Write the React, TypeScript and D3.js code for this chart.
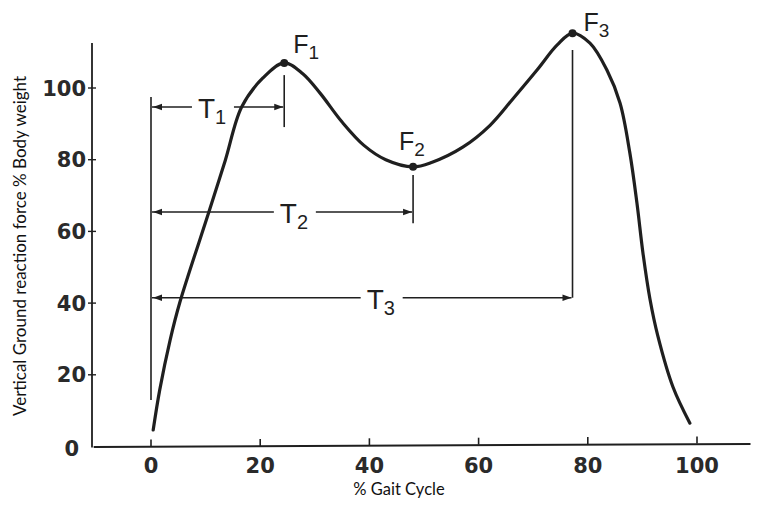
import React from "react";
import * as d3 from "d3";

// Vertical ground reaction force curve
const gaitPct = [0.4, 1.6, 3.5, 5.3, 10.6, 13.6, 16.6, 20.5, 24.4, 27.8, 31, 35, 39, 43, 48, 51.5, 57.1, 62.1, 66.3, 70.7, 74.4, 77.2, 80.4, 83.5, 85.9, 87.7, 89.0, 90.1, 91.4, 92.8, 95.6, 98.7];
const forcePct = [4.6, 15.8, 29.7, 40.3, 65.4, 79.8, 94.7, 102.8, 107, 104, 98.5, 90.5, 84, 80, 78, 79.3, 83.5, 89.6, 97, 105, 112, 115.3, 112.5, 105, 95.8, 81.9, 67.9, 54, 41, 31, 16.6, 6.5];

const xTicks = [0, 20, 40, 60, 80, 100];
const yTicks = [0, 20, 40, 60, 80, 100];

const peakNames = ["F", "F", "F"];
const peakSubs = ["1", "2", "3"];
const peakGait = [24.4, 48, 77.2];
const peakForce = [107, 78, 115.3];

const intervalSubs = ["1", "2", "3"];
const intervalLevel = [94.7, 65.4, 41.5];
const intervalLabelGait = [8.6, 23.6, 39.5];

const xAxisTitle = "% Gait Cycle";
const yAxisTitle = "Vertical Ground reaction force % Body weight";

const W = 759;
const H = 505;
const INK = "#1f1f1f";

export default function App() {
  const x = d3.scaleLinear().domain([0, 100]).range([151, 697]);
  const y = d3.scaleLinear().domain([0, 100]).range([446.5, 88]);

  const pts: [number, number][] = gaitPct.map((g, i) => [g, forcePct[i]]);
  const line = d3
    .line<[number, number]>()
    .x((d) => x(d[0]))
    .y((d) => y(d[1]))
    .curve(d3.curveCatmullRom.alpha(0.5));

  const axisY = y(0);
  const axisX = 92;

  const arrowHead = (tipX: number, tipY: number, dir: number) => {
    const len = 9;
    const hw = 3.2;
    return `M${tipX},${tipY} L${tipX - dir * len},${tipY - hw} L${tipX - dir * len},${tipY + hw} Z`;
  };

  // vertical extents for annotation ticks (in data units)
  const startTop = 97.5;
  const startBottom = 13;
  const endTops = [103.6, 75.7, 110.6];
  const endBottoms = [89.1, 62.3, 41.5];

  return (
    <svg
      width={W}
      height={H}
      style={{ position: "absolute", left: 0, top: 0, background: "#fff" }}
    >
      <rect x={0} y={0} width={W} height={H} fill="#fff" />

      {/* axes */}
      <line x1={x(-10.5)} x2={x(109.8)} y1={axisY + 0.5} y2={axisY - 2.5} stroke={INK} strokeWidth={2} />
      <line x1={axisX} x2={axisX} y1={43} y2={axisY + 1} stroke={INK} strokeWidth={1.8} />

      {xTicks.map((t) => (
        <g key={"xt" + t}>
          <line x1={x(t)} x2={x(t)} y1={axisY - t * 0.03} y2={axisY - 7 - t * 0.03} stroke={INK} strokeWidth={1.6} />
          <text
            x={x(t)}
            y={473}
            textAnchor="middle"
            fontFamily="DejaVu Sans"
            fontWeight="bold"
            fontSize={21}
            fill="#2a2a2a"
          >
            {t}
          </text>
        </g>
      ))}

      {yTicks.map((t) => (
        <g key={"yt" + t}>
          {t > 0 && <line x1={axisX - 4} x2={axisX + 4} y1={y(t)} y2={y(t)} stroke={INK} strokeWidth={1.4} />}
          <text
            x={t === 0 ? 79 : 86}
            y={y(t) + (t === 0 ? 2 : 0)}
            dy="0.36em"
            textAnchor="end"
            fontFamily="DejaVu Sans"
            fontWeight="bold"
            fontSize={21}
            fill="#2a2a2a"
          >
            {t}
          </text>
        </g>
      ))}

      {/* axis titles */}
      <text
        transform={`translate(26,${246}) rotate(-90)`}
        textAnchor="middle"
        fontFamily="Lato"
        fontSize={17}
        fill="#111"
      >
        {yAxisTitle}
      </text>
      <text x={399} y={495} textAnchor="middle" fontFamily="Lato" fontSize={16.5} fill="#111">
        {xAxisTitle}
      </text>

      {/* start vertical line at 0% */}
      <line x1={x(0)} x2={x(0)} y1={y(startTop)} y2={y(startBottom)} stroke={INK} strokeWidth={1.6} />

      {/* interval arrows */}
      {intervalSubs.map((s, i) => {
        const yy = y(intervalLevel[i]);
        const x0 = x(0) + 1;
        const x1 = x(peakGait[i]) - 1;
        const lx = x(intervalLabelGait[i]);
        const gapL = lx - 6;
        const gapR = lx + 36;
        return (
          <g key={"T" + s}>
            <line x1={x0} x2={gapL} y1={yy} y2={yy} stroke={INK} strokeWidth={1.6} />
            <line x1={gapR} x2={x1} y1={yy} y2={yy} stroke={INK} strokeWidth={1.6} />
            <path d={arrowHead(x0 + 1, yy, -1)} fill={INK} />
            <path d={arrowHead(x1, yy, 1)} fill={INK} />
            <line
              x1={x(peakGait[i])}
              x2={x(peakGait[i])}
              y1={y(endTops[i])}
              y2={y(endBottoms[i])}
              stroke={INK}
              strokeWidth={1.6}
            />
            <text x={lx} y={yy + 11} fontFamily="Liberation Sans" fontSize={28} fill={INK}>
              T
              <tspan fontSize={20} dy={6}>
                {s}
              </tspan>
            </text>
          </g>
        );
      })}

      {/* curve */}
      <path d={line(pts) || ""} fill="none" stroke={INK} strokeWidth={3.2} strokeLinecap="round" strokeLinejoin="round" />

      {/* peaks */}
      {peakNames.map((n, i) => {
        const px = x(peakGait[i]);
        const py = y(peakForce[i]);
        const off = [
          [9, -10],
          [-14, -17],
          [11, -2],
        ][i];
        return (
          <g key={"F" + i}>
            <circle cx={px} cy={py} r={4} fill={INK} />
            <text x={px + off[0]} y={py + off[1]} fontFamily="Liberation Sans" fontSize={25} fill={INK}>
              {n}
              <tspan fontSize={19} dy={6}>
                {peakSubs[i]}
              </tspan>
            </text>
          </g>
        );
      })}
    </svg>
  );
}
